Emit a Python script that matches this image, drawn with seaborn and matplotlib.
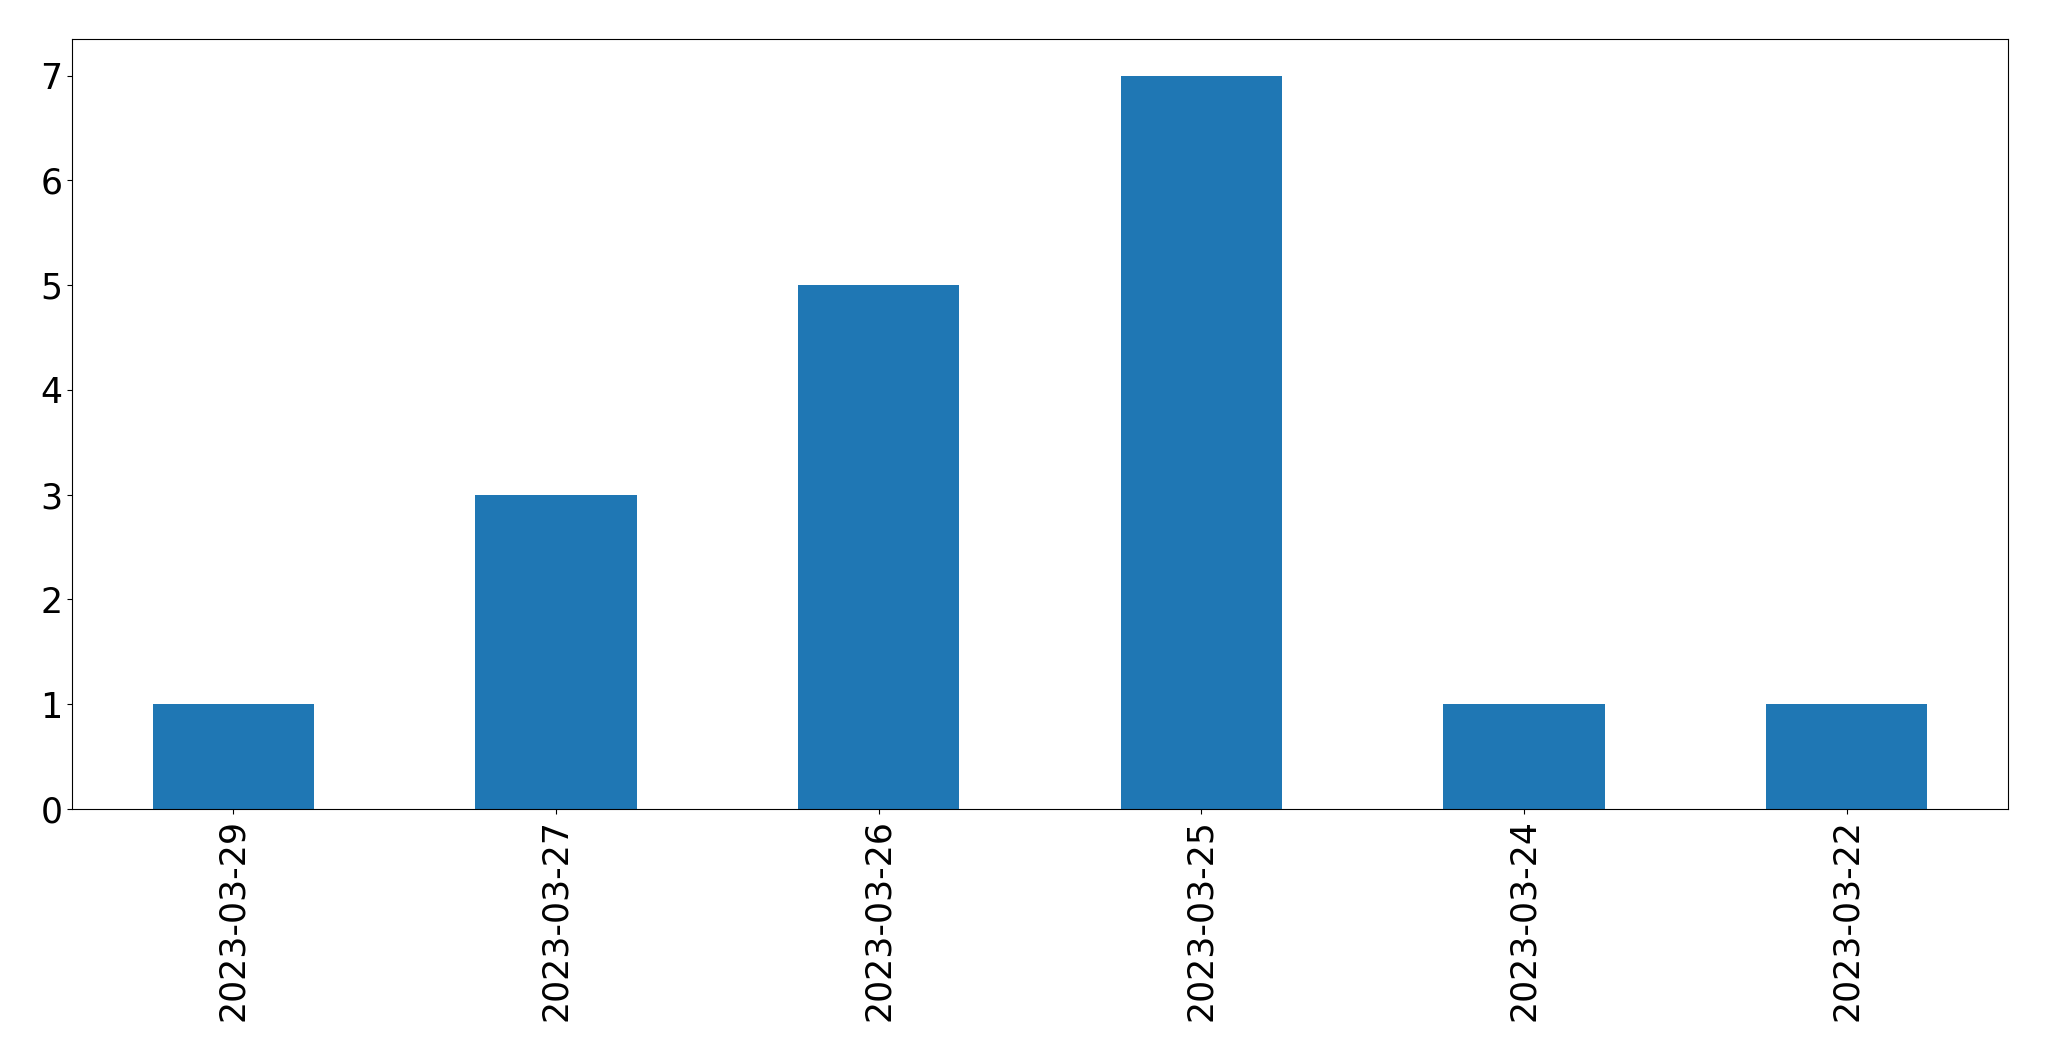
import pandas as pd
import seaborn as sns
import matplotlib.pyplot as plt

# datos
fechas = ['2023-03-29', '2023-03-27', '2023-03-26', '2023-03-25', '2023-03-24', '2023-03-22']
conteos = [1, 3, 5, 7, 1, 1]

df = pd.DataFrame({'fecha': fechas, 'conteo': conteos})

fig, ax = plt.subplots(figsize=(20.49, 10.61), dpi=100)
sns.barplot(data=df, x='fecha', y='conteo', color='#1f77b4', saturation=1,
            width=0.5, ax=ax)

ax.set_xlim(-0.5, len(fechas) - 0.5)
ax.set_ylim(0, 7.35)
ax.set_xlabel('')
ax.set_ylabel('')
ax.tick_params(axis='both', labelsize=25)
ax.tick_params(axis='x', labelrotation=90)

fig.subplots_adjust(left=72 / 2049, right=2008 / 2049,
                    top=1 - 39 / 1061, bottom=1 - 809 / 1061)
fig.savefig('out.png', dpi=100)
